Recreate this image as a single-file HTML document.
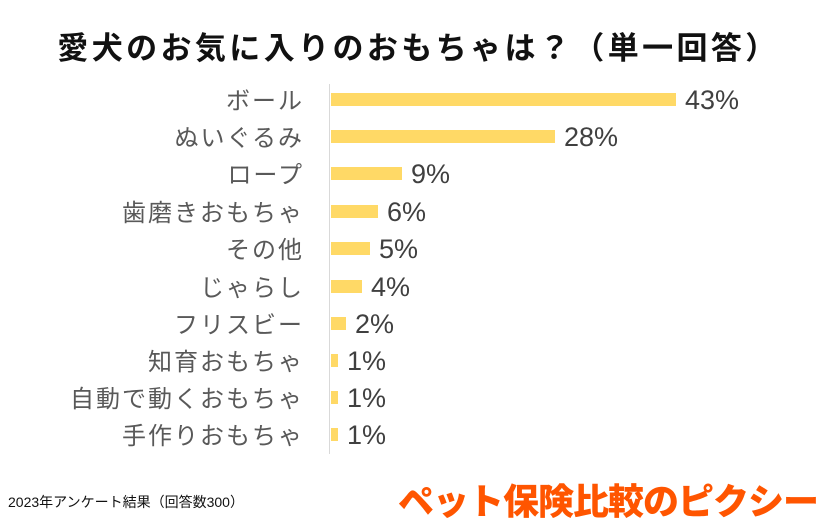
<!DOCTYPE html>
<html><head><meta charset="utf-8"><style>
body{margin:0;width:837px;height:524px;background:#fff;position:relative;overflow:hidden;font-family:"Liberation Sans","Noto Sans CJK JP",sans-serif}
.t{position:absolute;left:0;width:837px;top:23px;text-align:center;font-size:31px;font-weight:bold;color:#111;letter-spacing:3.4px}
.l{position:absolute;right:533px;font-size:24px;color:#595959;white-space:nowrap;line-height:26px;letter-spacing:2px}
.b{position:absolute;left:331px;height:13px;background:#FFD966}
.v{position:absolute;font-size:27px;color:#404040;line-height:28px}
.ax{position:absolute;left:329px;top:84px;width:1px;height:370px;background:#d9d9d9}
.f{position:absolute;left:8px;top:492px;font-size:14px;color:#111}
.lg{position:absolute;left:398px;top:473px;font-size:36px;font-weight:900;color:#FF5500;letter-spacing:-1px;white-space:nowrap}
</style></head><body>
<div class="t">愛犬のお気に入りのおもちゃは？（単一回答）</div>
<div class="ax"></div>
<div class="l" style="top:89px">ボール</div><div class="b" style="top:93px;width:345px"></div><div class="v" style="left:685px;top:86px">43%</div>
<div class="l" style="top:126px">ぬいぐるみ</div><div class="b" style="top:130px;width:224px"></div><div class="v" style="left:564px;top:123px">28%</div>
<div class="l" style="top:163px">ロープ</div><div class="b" style="top:167px;width:71px"></div><div class="v" style="left:411px;top:160px">9%</div>
<div class="l" style="top:201px">歯磨きおもちゃ</div><div class="b" style="top:205px;width:47px"></div><div class="v" style="left:387px;top:198px">6%</div>
<div class="l" style="top:238px">その他</div><div class="b" style="top:242px;width:39px"></div><div class="v" style="left:379px;top:235px">5%</div>
<div class="l" style="top:276px">じゃらし</div><div class="b" style="top:280px;width:31px"></div><div class="v" style="left:371px;top:273px">4%</div>
<div class="l" style="top:313px">フリスビー</div><div class="b" style="top:317px;width:15px"></div><div class="v" style="left:355px;top:310px">2%</div>
<div class="l" style="top:350px">知育おもちゃ</div><div class="b" style="top:354px;width:7px"></div><div class="v" style="left:347px;top:347px">1%</div>
<div class="l" style="top:387px">自動で動くおもちゃ</div><div class="b" style="top:391px;width:7px"></div><div class="v" style="left:347px;top:384px">1%</div>
<div class="l" style="top:424px">手作りおもちゃ</div><div class="b" style="top:428px;width:7px"></div><div class="v" style="left:347px;top:421px">1%</div>
<div class="f">2023年アンケート結果（回答数300）</div>
<div class="lg">ペット保険比較のピクシー</div>
</body></html>
